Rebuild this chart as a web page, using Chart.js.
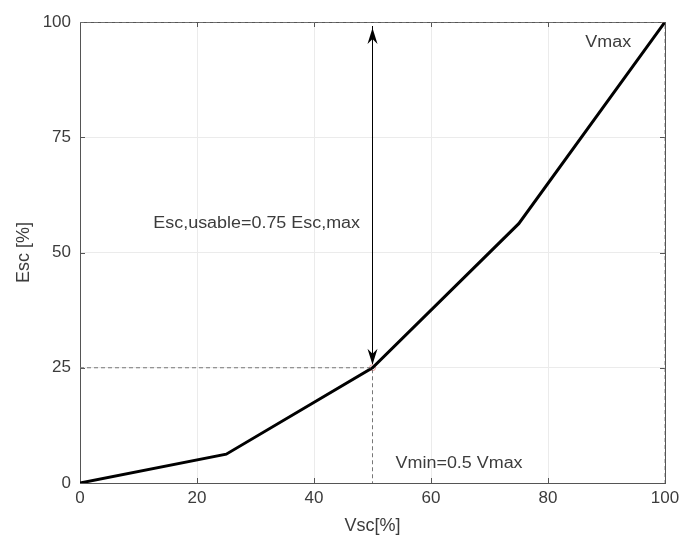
<!DOCTYPE html>
<html><head><meta charset="utf-8">
<script src="https://cdn.jsdelivr.net/npm/chart.js@4/dist/chart.umd.min.js"></script>
<style>html,body{margin:0;padding:0;background:#fff}#wrap{width:680px;height:537px}</style>
</head><body><div id="wrap"><canvas id="c" width="680" height="537"></canvas></div>
<script>
const vsc = [0, 25, 50, 75, 100];
const esc = [0, 6.25, 25, 56.25, 100];
const xTicks = [0, 20, 40, 60, 80, 100];
const yTicks = [0, 25, 50, 75, 100];
const vminLineX = [0, 50, 50];
const vminLineY = [25, 25, 0];
const vmaxLineX = [0, 100, 100];
const vmaxLineY = [100, 100, 0];
const markerX = [50, 100];
const markerY = [25, 100];
const arrowX = 50, arrowFrom = 25, arrowTo = 100;
const notes = [
  {text: 'Vmax', x: 90.3, y: 95.5},
  {text: 'Esc,usable=0.75 Esc,max', x: 30.2, y: 56.3},
  {text: 'Vmin=0.5 Vmax', x: 64.8, y: 4.3}
];
const FONT = '"Liberation Sans", Arial, sans-serif';
const TXT = '#3c3c3c';

const pts = (xs, ys) => xs.map((x, i) => ({x, y: ys[i]}));

const extras = {
  id: 'extras',
  beforeDatasetsDraw(chart) {
    const {ctx, chartArea: a, scales: {x, y}} = chart;
    ctx.save();
    ctx.strokeStyle = '#555';
    ctx.lineWidth = 1;
    ctx.strokeRect(a.left + 0.5, a.top + 0.5, a.right - a.left, a.bottom - a.top);
    ctx.beginPath();
    xTicks.forEach(v => {
      const px = Math.round(x.getPixelForValue(v)) + 0.5;
      ctx.moveTo(px, a.bottom); ctx.lineTo(px, a.bottom - 5);
      ctx.moveTo(px, a.top); ctx.lineTo(px, a.top + 5);
    });
    yTicks.forEach(v => {
      const py = Math.round(y.getPixelForValue(v)) + 0.5;
      ctx.moveTo(a.left, py); ctx.lineTo(a.left + 5, py);
      ctx.moveTo(a.right, py); ctx.lineTo(a.right - 5, py);
    });
    ctx.stroke();
    ctx.restore();
  },
  afterDatasetsDraw(chart) {
    const {ctx, scales: {x, y}} = chart;
    ctx.save();
    const px = x.getPixelForValue(arrowX);
    const p1 = y.getPixelForValue(arrowFrom);
    const p2 = y.getPixelForValue(arrowTo);
    ctx.strokeStyle = '#000';
    ctx.fillStyle = '#000';
    ctx.lineWidth = 1;
    ctx.beginPath(); ctx.moveTo(px, p1 - 4); ctx.lineTo(px, p2 + 4); ctx.stroke();
    const head = (tipY, dir) => {
      ctx.beginPath();
      ctx.moveTo(px, tipY);
      ctx.lineTo(px - 5, tipY + dir * 16);
      ctx.lineTo(px, tipY + dir * 11);
      ctx.lineTo(px + 5, tipY + dir * 16);
      ctx.closePath(); ctx.fill();
    };
    head(p2 + 6, 1);
    head(p1 - 3, -1);
    ctx.font = '16px ' + FONT;
    ctx.fillStyle = TXT;
    ctx.textAlign = 'center';
    ctx.textBaseline = 'middle';
    notes.forEach(n => {
      ctx.save();
      ctx.translate(x.getPixelForValue(n.x), y.getPixelForValue(n.y));
      ctx.scale(1.12, 1);
      ctx.fillText(n.text, 0, 0);
      ctx.restore();
    });
    ctx.restore();
  }
};

new Chart(document.getElementById('c'), {
  type: 'scatter',
  data: {
    datasets: [
      {data: pts(vmaxLineX, vmaxLineY), showLine: true, borderColor: '#888', borderWidth: 1, borderDash: [4, 3], pointRadius: 0},
      {data: pts(vminLineX, vminLineY), showLine: true, borderColor: '#777', borderWidth: 1, borderDash: [4, 3], pointRadius: 0},
      {data: pts(vsc, esc), showLine: true, borderColor: '#000', borderWidth: 3, pointRadius: 0, tension: 0},
      {data: pts(markerX, markerY), showLine: false, pointStyle: 'circle', pointRadius: 3, borderColor: 'rgba(230,120,120,0.7)', backgroundColor: 'rgba(0,0,0,0)', borderWidth: 1}
    ]
  },
  options: {
    responsive: false,
    animation: false,
    layout: {padding: {top: 22, right: 15, left: 13, bottom: 0}},
    plugins: {legend: {display: false}, tooltip: {enabled: false}},
    scales: {
      x: {
        type: 'linear', min: 0, max: 100,
        afterBuildTicks: s => { s.ticks = xTicks.map(v => ({value: v})); },
        afterFit: s => { s.height = 54; s.paddingLeft = 0; s.paddingRight = 0; },
        grid: {color: '#ebebeb', drawTicks: false},
        border: {display: false},
        ticks: {padding: 5, color: TXT, font: {family: FONT, size: 17}, maxRotation: 0},
        title: {display: true, text: 'Vsc[%]', color: TXT, font: {family: FONT, size: 18}, padding: {top: 3, bottom: 0}}
      },
      y: {
        type: 'linear', min: 0, max: 100,
        afterBuildTicks: s => { s.ticks = yTicks.map(v => ({value: v})); },
        afterFit: s => { s.width = 67; s.paddingTop = 0; s.paddingBottom = 0; },
        grid: {color: '#ebebeb', drawTicks: false},
        border: {display: false},
        ticks: {padding: 9, color: TXT, font: {family: FONT, size: 17}},
        title: {display: true, text: 'Esc [%]', color: TXT, font: {family: FONT, size: 18}, padding: {top: 0, bottom: 4}}
      }
    }
  },
  plugins: [extras]
});
</script>
</body></html>
